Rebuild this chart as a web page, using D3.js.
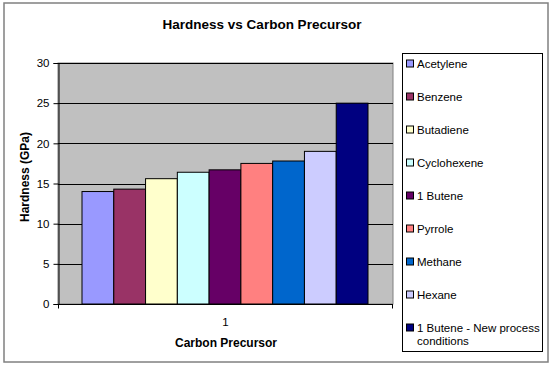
<!DOCTYPE html>
<html><head><meta charset="utf-8">
<script src="https://cdn.jsdelivr.net/npm/d3@7"></script>
<style>body{margin:0;background:#fff}svg{display:block;font-family:"Liberation Sans",Arial,sans-serif}</style>
</head><body><svg id="c" width="553" height="369"></svg>
<script>
const categories = ["1"];
const seriesNames = ["Acetylene","Benzene","Butadiene","Cyclohexene","1 Butene","Pyrrole","Methane","Hexane","1 Butene - New process conditions"];
const hardness = [14.0,14.3,15.6,16.4,16.7,17.5,17.8,19.0,25.0];
const colors = ["#9999FF","#993366","#FFFFCC","#CCFFFF","#660066","#FF8080","#0066CC","#CCCCFF","#000080"];
const yTicks = [0,5,10,15,20,25,30];

const svg = d3.select("#c");
const plot = {l:58,r:393,t:63,b:304};

svg.append("rect").attr("x",4).attr("y",3).attr("width",544).attr("height",359)
  .attr("fill","#fff").attr("stroke","#808080").attr("stroke-width",1.5);

svg.append("text").attr("x",262).attr("y",28.5).attr("text-anchor","middle")
  .attr("font-weight","bold").attr("font-size",13.5).text("Hardness vs Carbon Precursor");

const y = d3.scaleLinear().domain([0,30]).range([plot.b,plot.t]);
const x0 = d3.scaleBand().domain(categories).range([plot.l,plot.r]).paddingInner(0).paddingOuter(0.0);
const x1 = d3.scaleBand().domain(seriesNames).range([24, x0.bandwidth()-25]).padding(0);

svg.append("rect").attr("x",plot.l).attr("y",plot.t).attr("width",plot.r-plot.l).attr("height",plot.b-plot.t)
  .attr("fill","#C0C0C0").attr("stroke","#808080").attr("stroke-width",1);

svg.append("g").selectAll("line").data(yTicks.filter(d=>d>0)).join("line")
  .attr("x1",plot.l).attr("x2",plot.r).attr("y1",d=>Math.round(y(d))+0.5).attr("y2",d=>Math.round(y(d))+0.5)
  .attr("stroke","#000").attr("stroke-width",1);

const g = svg.append("g");
categories.forEach(cat=>{
  g.selectAll("rect.b").data(hardness).join("rect").attr("class","b")
    .attr("x",(d,i)=>x0(cat)+x1(seriesNames[i]))
    .attr("y",d=>y(d))
    .attr("width",x1.bandwidth())
    .attr("height",d=>y(0)-y(d))
    .attr("fill",(d,i)=>colors[i]).attr("stroke","#000").attr("stroke-width",1);
});

const yAxis = d3.axisLeft(y).tickValues(yTicks).tickSize(5).tickPadding(4);
const ya = svg.append("g").attr("transform",`translate(${plot.l+0.5},0)`).call(yAxis);
ya.select(".domain").attr("stroke","#000");
ya.selectAll("text").attr("font-size",11.5).attr("font-family","Liberation Sans, Arial, sans-serif").attr("fill","#000");

const xAxis = d3.axisBottom(x0).tickSize(0).tickPadding(13);
const xa = svg.append("g").attr("transform",`translate(0,${plot.b+0.5})`).call(xAxis);
xa.select(".domain").remove();
xa.append("line").attr("x1",plot.l).attr("x2",plot.r).attr("stroke","#000");
[plot.l+0.5,plot.r-0.5].forEach(px=>xa.append("line").attr("x1",px).attr("x2",px).attr("y1",0).attr("y2",4).attr("stroke","#000"));
xa.selectAll("text").attr("font-size",11.5).attr("font-family","Liberation Sans, Arial, sans-serif").attr("fill","#000");

svg.append("text").attr("x",226).attr("y",347).attr("text-anchor","middle")
  .attr("font-weight","bold").attr("font-size",12).text("Carbon Precursor");
svg.append("text").attr("transform","translate(29,177) rotate(-90)").attr("text-anchor","middle")
  .attr("font-weight","bold").attr("font-size",12).text("Hardness (GPa)");

const lg = svg.append("g");
lg.append("rect").attr("x",402.5).attr("y",53.5).attr("width",140).attr("height",298)
  .attr("fill","#fff").attr("stroke","#000").attr("stroke-width",1);
const items = lg.selectAll("g.it").data(seriesNames).join("g").attr("class","it")
  .attr("transform",(d,i)=>`translate(406,${63.5+i*33})`);
items.append("rect").attr("x",0.5).attr("y",-3.5).attr("width",7).attr("height",7)
  .attr("fill",(d,i)=>colors[i]).attr("stroke","#000").attr("stroke-width",1);
items.append("text").attr("x",11).attr("y",4).attr("font-size",11.5)
  .each(function(d){
    const t=d3.select(this);
    if(d.length>25){
      t.append("tspan").attr("x",11).text("1 Butene - New process");
      t.append("tspan").attr("x",11).attr("dy",13).text("conditions");
    } else t.text(d);
  });
</script></body></html>
